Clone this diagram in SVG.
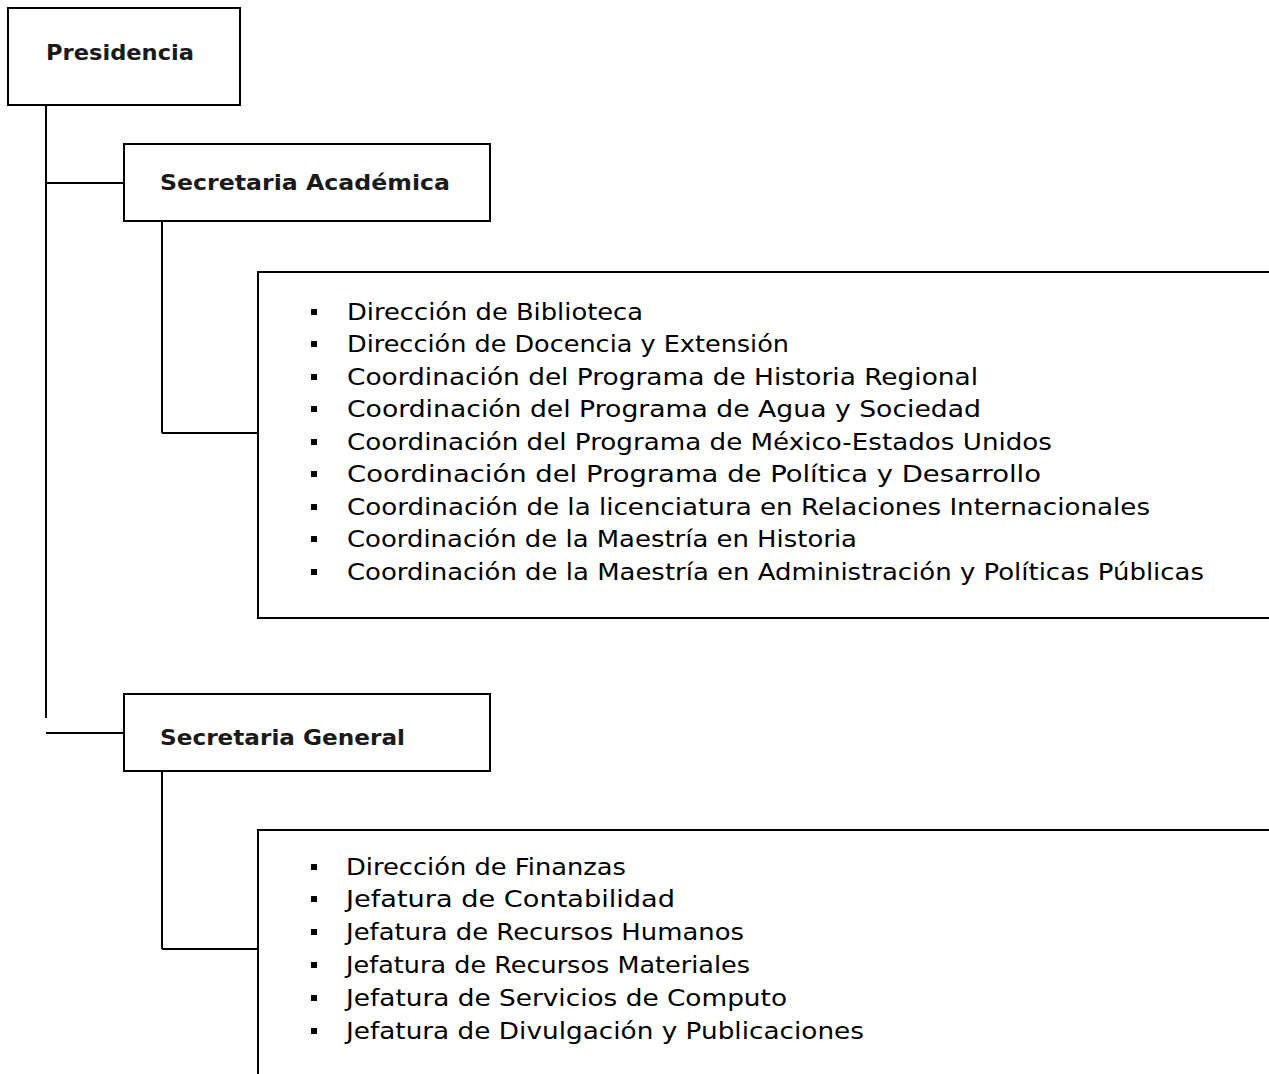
<svg xmlns="http://www.w3.org/2000/svg" width="1269" height="1074" viewBox="0 0 1269 1074">
<style>
.box{fill:#fff;stroke:#000;stroke-width:2}
.ln{stroke:#000;stroke-width:2;fill:none}
.lbl{font-family:"DejaVu Sans","Liberation Sans",sans-serif;font-size:22px;font-weight:bold;fill:#1a1a1a}
.it{font-family:"DejaVu Sans","Liberation Sans",sans-serif;font-size:23px;fill:#000}
.bl{fill:#000}
</style>
<rect width="1269" height="1074" fill="#fff"/>
<g id="connectors">
<line class="ln" x1="46" y1="105" x2="46" y2="718"/>
<line class="ln" x1="46" y1="183" x2="124" y2="183"/>
<line class="ln" x1="46" y1="733" x2="124" y2="733"/>
<line class="ln" x1="162" y1="221" x2="162" y2="433"/>
<line class="ln" x1="162" y1="433" x2="258" y2="433"/>
<line class="ln" x1="162" y1="771" x2="162" y2="949"/>
<line class="ln" x1="162" y1="949" x2="258" y2="949"/>
</g>
<g id="presidencia">
<rect class="box" x="8" y="8" width="232" height="97"/>
<text class="lbl" x="46" y="60" textLength="148" lengthAdjust="spacingAndGlyphs">Presidencia</text>
</g>
<g id="sec-academica">
<rect class="box" x="124" y="144" width="366" height="77"/>
<text class="lbl" x="160" y="190" textLength="290" lengthAdjust="spacingAndGlyphs">Secretaria Académica</text>
</g>
<g id="lista-academica">
<path class="ln" d="M1270,272 H258 V618 H1270"/>
<rect class="bl" x="311" y="309" width="6" height="6"/>
<rect class="bl" x="311" y="341" width="6" height="6"/>
<rect class="bl" x="311" y="374" width="6" height="6"/>
<rect class="bl" x="311" y="406" width="6" height="6"/>
<rect class="bl" x="311" y="439" width="6" height="6"/>
<rect class="bl" x="311" y="471" width="6" height="6"/>
<rect class="bl" x="311" y="504" width="6" height="6"/>
<rect class="bl" x="311" y="536" width="6" height="6"/>
<rect class="bl" x="311" y="569" width="6" height="6"/>
<text class="it" x="347" y="320" textLength="296" lengthAdjust="spacingAndGlyphs">Dirección de Biblioteca</text>
<text class="it" x="347" y="352" textLength="442" lengthAdjust="spacingAndGlyphs">Dirección de Docencia y Extensión</text>
<text class="it" x="347" y="385" textLength="631" lengthAdjust="spacingAndGlyphs">Coordinación del Programa de Historia Regional</text>
<text class="it" x="347" y="417" textLength="634" lengthAdjust="spacingAndGlyphs">Coordinación del Programa de Agua y Sociedad</text>
<text class="it" x="347" y="450" textLength="705" lengthAdjust="spacingAndGlyphs">Coordinación del Programa de México-Estados Unidos</text>
<text class="it" x="347" y="482" textLength="694" lengthAdjust="spacingAndGlyphs">Coordinación del Programa de Política y Desarrollo</text>
<text class="it" x="347" y="515" textLength="803" lengthAdjust="spacingAndGlyphs">Coordinación de la licenciatura en Relaciones Internacionales</text>
<text class="it" x="347" y="547" textLength="510" lengthAdjust="spacingAndGlyphs">Coordinación de la Maestría en Historia</text>
<text class="it" x="347" y="580" textLength="857" lengthAdjust="spacingAndGlyphs">Coordinación de la Maestría en Administración y Políticas Públicas</text>
</g>
<g id="sec-general">
<rect class="box" x="124" y="694" width="366" height="77"/>
<text class="lbl" x="160" y="745" textLength="245" lengthAdjust="spacingAndGlyphs">Secretaria General</text>
</g>
<g id="lista-general">
<path class="ln" d="M1270,830 H258 V1074"/>
<rect class="bl" x="311" y="864" width="6" height="6"/>
<rect class="bl" x="311" y="896" width="6" height="6"/>
<rect class="bl" x="311" y="929" width="6" height="6"/>
<rect class="bl" x="311" y="962" width="6" height="6"/>
<rect class="bl" x="311" y="995" width="6" height="6"/>
<rect class="bl" x="311" y="1028" width="6" height="6"/>
<text class="it" x="346" y="875" textLength="280" lengthAdjust="spacingAndGlyphs">Dirección de Finanzas</text>
<text class="it" x="346" y="907" textLength="329" lengthAdjust="spacingAndGlyphs">Jefatura de Contabilidad</text>
<text class="it" x="346" y="940" textLength="398" lengthAdjust="spacingAndGlyphs">Jefatura de Recursos Humanos</text>
<text class="it" x="346" y="973" textLength="404" lengthAdjust="spacingAndGlyphs">Jefatura de Recursos Materiales</text>
<text class="it" x="346" y="1006" textLength="441" lengthAdjust="spacingAndGlyphs">Jefatura de Servicios de Computo</text>
<text class="it" x="346" y="1039" textLength="518" lengthAdjust="spacingAndGlyphs">Jefatura de Divulgación y Publicaciones</text>
</g>
</svg>
